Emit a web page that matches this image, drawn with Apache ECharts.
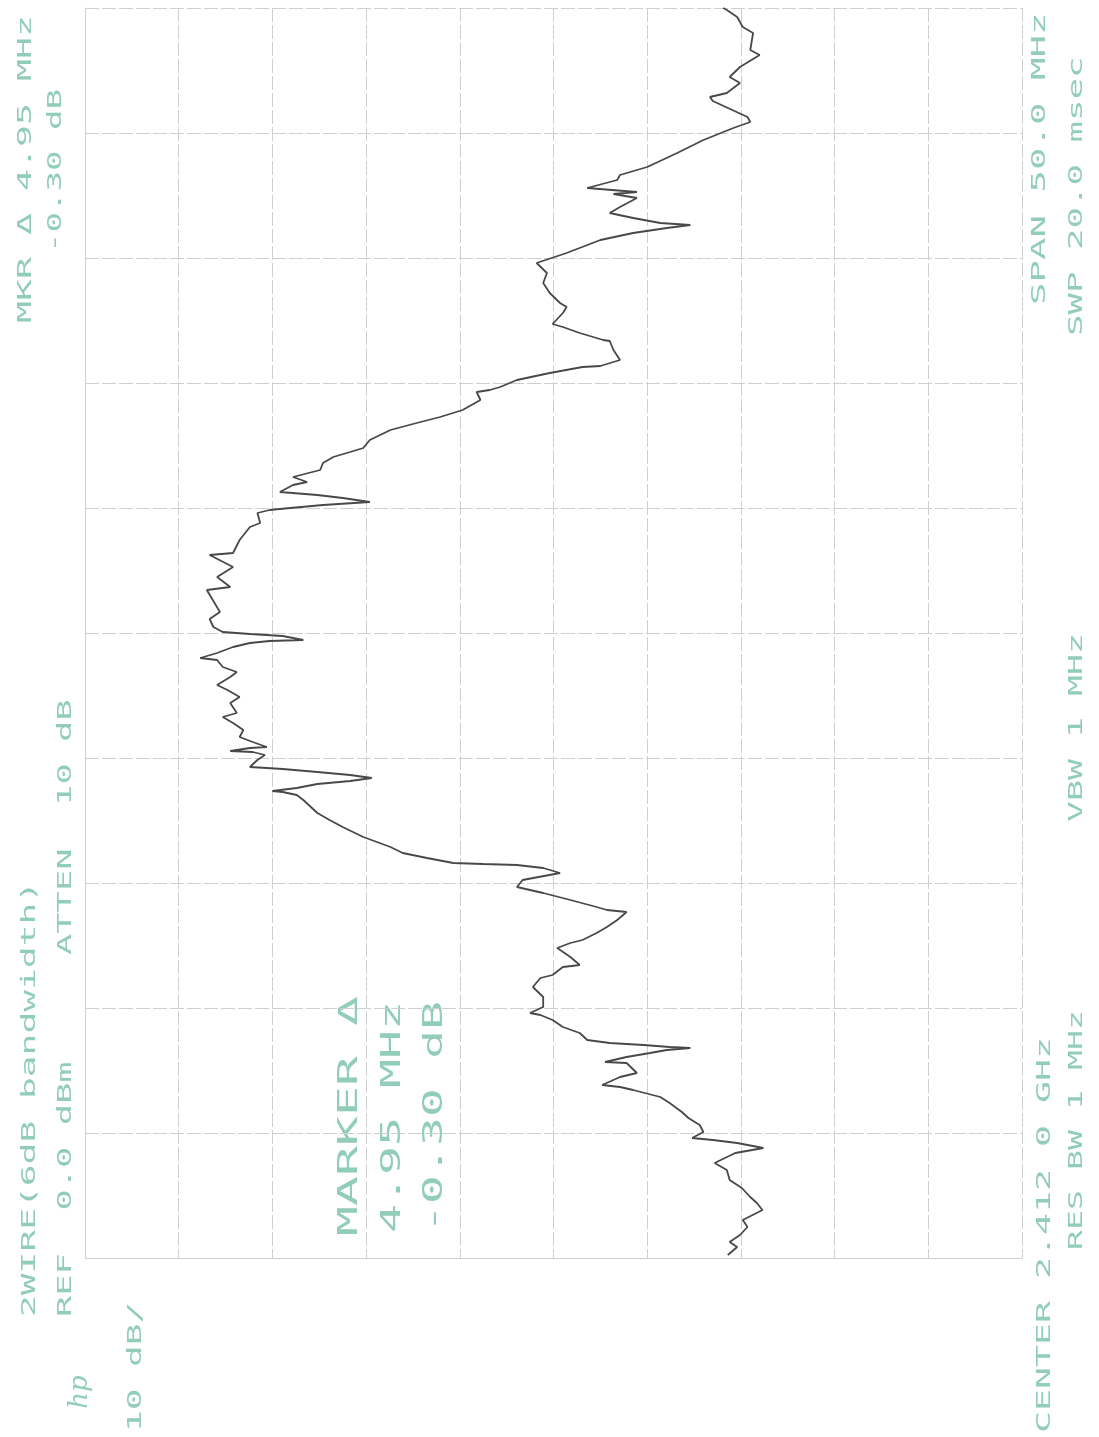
<!DOCTYPE html>
<html>
<head>
<meta charset="utf-8">
<script src="https://cdn.jsdelivr.net/npm/echarts@6/dist/echarts.min.js"></script>
<style>
  html, body { margin: 0; padding: 0; background: #ffffff; }
  #chart { width: 1099px; height: 1437px; }
</style>
</head>
<body>
<div id="chart"></div>
<script>
// Spectrum analyzer sweep, plotted sideways: level (dBm) runs left→right, frequency runs bottom→top.
const CENTER_MHZ = 2412.0;
const SPAN_MHZ = 50;
const REF_DBM = 0;
const DB_PER_DIV = 10;
const LEVEL_DIVS = 10;
const FREQ_DIVS = 10;

// Trace frequency (MHz) and measured level (dBm), low to high frequency
const traceFreq = [
  2387.12, 2387.44, 2387.64, 2387.92, 2388.24, 2388.52, 2388.92, 2389.20, 2389.44, 2389.80,
  2390.12, 2390.52, 2390.80, 2391.20, 2391.40, 2391.60, 2391.72, 2391.80, 2392.04, 2392.32,
  2392.60, 2392.84, 2393.20, 2393.44, 2393.72, 2393.84, 2393.92, 2394.24, 2394.40, 2394.80,
  2394.84, 2395.04, 2395.20, 2395.32, 2395.40, 2395.44, 2395.52, 2395.60, 2395.72, 2396.00,
  2396.24, 2396.52, 2396.72, 2396.80, 2397.04, 2397.44, 2397.84, 2398.20, 2398.32, 2398.64,
  2398.72, 2399.04, 2399.40, 2399.60, 2399.72, 2400.00, 2400.24, 2400.52, 2400.84, 2400.92,
  2401.04, 2401.32, 2401.60, 2401.84, 2402.12, 2402.40, 2402.60, 2402.72, 2402.76, 2402.80,
  2403.00, 2403.20, 2403.44, 2403.84, 2404.04, 2404.24, 2404.52, 2404.80, 2405.32, 2405.52,
  2405.64, 2405.68, 2405.80, 2405.96, 2406.08, 2406.20, 2406.32, 2406.44, 2406.56, 2406.60,
  2406.64, 2406.92, 2407.12, 2407.24, 2407.28, 2407.40, 2407.44, 2407.64, 2407.84, 2408.12,
  2408.40, 2408.64, 2408.80, 2409.20, 2409.44, 2409.72, 2409.92, 2410.24, 2410.44, 2410.64,
  2410.92, 2411.00, 2411.20, 2411.44, 2411.60, 2411.68, 2411.72, 2411.88, 2411.96, 2412.04,
  2412.24, 2412.56, 2412.84, 2413.72, 2413.84, 2414.24, 2414.64, 2415.12, 2415.20, 2415.72,
  2416.24, 2416.40, 2416.80, 2416.92, 2417.00, 2417.12, 2417.24, 2417.40, 2417.52, 2417.64,
  2417.92, 2418.04, 2418.24, 2418.52, 2418.80, 2419.04, 2419.24, 2419.40, 2419.72, 2420.12,
  2420.40, 2420.64, 2420.92, 2421.32, 2421.64, 2421.72, 2421.84, 2422.12, 2422.40, 2422.64,
  2422.68, 2422.92, 2423.32, 2423.68, 2423.72, 2424.00, 2424.24, 2424.36, 2424.80, 2425.04,
  2425.20, 2425.60, 2426.00, 2426.40, 2426.80, 2427.20, 2427.72, 2428.00, 2428.20, 2428.32,
  2428.40, 2428.60, 2428.80, 2429.04, 2429.40, 2429.56, 2429.64, 2429.80, 2430.12, 2430.32,
  2430.64, 2431.20, 2431.72, 2432.20, 2432.44, 2432.64, 2433.28, 2433.44, 2433.60, 2434.00,
  2434.24, 2434.64, 2435.12, 2435.32, 2436.00, 2436.24, 2436.64, 2436.92, 2437.00
];
const traceLevel = [
  -68.6, -69.6, -68.8, -69.9, -70.7, -70.2, -72.3, -71.7, -71.0, -70.1,
  -68.8, -68.5, -67.2, -69.4, -72.4, -69.6, -67.0, -64.8, -66.0, -65.6,
  -64.4, -63.7, -62.4, -61.4, -58.5, -57.1, -55.2, -57.1, -58.9, -57.8,
  -55.5, -57.8, -60.3, -62.1, -64.6, -62.4, -59.6, -56.0, -53.6, -52.8,
  -51.0, -49.9, -48.6, -47.5, -48.9, -48.9, -47.8, -48.6, -49.9, -51.0,
  -52.8, -51.8, -50.4, -51.8, -53.1, -54.6, -55.7, -56.8, -57.8, -55.7,
  -54.6, -51.8, -48.9, -46.1, -46.7, -50.7, -48.9, -46.1, -42.5, -39.3,
  -36.5, -33.9, -32.6, -29.7, -28.6, -27.5, -26.1, -24.8, -23.3, -22.6,
  -21.1, -20.0, -22.6, -24.8, -28.3, -30.6, -28.3, -24.8, -21.1, -19.4,
  -17.6, -18.4, -19.2, -17.9, -15.5, -17.6, -19.4, -17.9, -16.5, -16.9,
  -15.8, -14.7, -16.2, -15.5, -16.5, -15.2, -14.1, -15.5, -16.2, -14.7,
  -14.1, -12.3, -14.1, -15.8, -17.6, -19.7, -23.3, -21.1, -17.6, -14.7,
  -13.7, -13.3, -14.4, -13.0, -15.5, -14.1, -15.8, -13.3, -15.8, -16.5,
  -17.6, -18.7, -18.4, -19.7, -21.9, -25.4, -30.4, -27.5, -24.8, -20.8,
  -22.2, -23.7, -22.2, -25.1, -25.4, -26.5, -28.3, -29.7, -30.4, -32.6,
  -35.4, -37.9, -40.3, -42.2, -41.8, -43.2, -44.3, -46.1, -49.6, -53.1,
  -55.0, -57.1, -56.4, -56.0, -55.3, -52.8, -51.0, -49.9, -51.0, -51.4,
  -50.7, -49.6, -48.9, -49.3, -48.2, -51.4, -55.0, -58.5, -62.1, -64.6,
  -61.4, -58.5, -56.0, -57.1, -58.9, -56.4, -58.9, -53.6, -56.8, -57.1,
  -60.0, -63.2, -66.0, -69.2, -71.0, -70.7, -67.0, -66.7, -68.5, -69.9,
  -68.8, -69.9, -72.0, -71.0, -71.3, -70.2, -69.6, -68.5, -68.1
];

// Annotation texts printed around the graticule
const headerTitle = '2WIRE(6dB bandwidth)';
const headerRef = 'REF  0.0 dBm';
const headerAtten = 'ATTEN  10 dB';
const markerHead = 'MKR \u0394 4.95 MHz';
const markerHeadDb = '-0.30 dB';
const scaleText = '10 dB/';
const logoText = 'hp';
const centerText = 'CENTER 2.412 0 GHz';
const resBwText = 'RES BW 1 MHz';
const vbwText = 'VBW 1 MHz';
const spanText = 'SPAN 50.0 MHz';
const sweepText = 'SWP 20.0 msec';
const markerLines = ['MARKER \u0394', '4.95 MHz', '-0.30 dB'];

const INK = '#92cdb9';
const GRID = '#cfcfcf';
const TRACE = '#484848';

const chart = echarts.init(document.getElementById('chart'), null, { renderer: 'canvas' });

// vertical (bottom-to-top) printer-style text; adv = desired character pitch in px
function vtext(text, x, y, size, adv, color) {
  return {
    type: 'text', x: x, y: y, rotation: Math.PI / 2,
    scaleX: adv / (0.602 * size), scaleY: 1, silent: true,
    style: {
      text: text, fill: color || INK,
      fontFamily: 'DejaVu Sans Mono', fontSize: size,
      textAlign: 'left', textVerticalAlign: 'middle',
      align: 'left', verticalAlign: 'middle'
    }
  };
}

const halfSpan = SPAN_MHZ / 2;
const seriesData = traceFreq.map((f, i) => [traceLevel[i], f - CENTER_MHZ]);

const option = {
  backgroundColor: '#ffffff',
  animation: false,
  grid: { left: 85, right: 77, top: 8, bottom: 179, containLabel: false },
  xAxis: {
    type: 'value', inverse: true,
    min: REF_DBM - DB_PER_DIV * LEVEL_DIVS, max: REF_DBM, interval: DB_PER_DIV,
    axisLine: { show: true, onZero: false, lineStyle: { color: GRID, width: 1 } },
    axisTick: { show: false }, axisLabel: { show: false },
    splitLine: { show: true, lineStyle: { color: GRID, width: 1, type: [14, 3] } }
  },
  yAxis: {
    type: 'value',
    min: -halfSpan, max: halfSpan, interval: SPAN_MHZ / FREQ_DIVS,
    axisLine: { show: true, onZero: false, lineStyle: { color: GRID, width: 1 } },
    axisTick: { show: false }, axisLabel: { show: false },
    splitLine: { show: true, lineStyle: { color: GRID, width: 1, type: [14, 3] } }
  },
  series: [{
    type: 'line', data: seriesData, showSymbol: false, symbol: 'none',
    lineStyle: { color: TRACE, width: 1.8 }, smooth: false, z: 5
  }],
  graphic: [
    vtext(headerTitle, 30, 1317, 20, 21.8),
    vtext(headerRef, 66, 1317, 20, 21.3),
    vtext(headerAtten, 66, 955, 20, 21.3),
    vtext(markerHead, 26, 323, 20, 22),
    vtext(markerHeadDb, 56, 253, 20, 20.5),
    vtext(scaleText, 136, 1432, 20, 21.7),
    {
      type: 'text', x: 80, y: 1392, rotation: Math.PI / 2, silent: true,
      style: { text: logoText, fill: INK, fontFamily: 'DejaVu Serif', fontStyle: 'italic',
        fontSize: 26, textAlign: 'center', textVerticalAlign: 'middle', align: 'center', verticalAlign: 'middle' }
    },
    vtext(centerText, 1045, 1433, 20, 22),
    vtext(resBwText, 1077, 1250, 20, 20),
    vtext(vbwText, 1077, 822, 20, 21),
    vtext(spanText, 1040, 305, 20, 22.5),
    vtext(sweepText, 1077, 336, 20, 21.5),
    vtext(markerLines[0], 350, 1236, 27, 30),
    vtext(markerLines[1], 393, 1233, 27, 29),
    vtext(markerLines[2], 435, 1233, 27, 29)
  ]
};

chart.setOption(option);
</script>
</body>
</html>
